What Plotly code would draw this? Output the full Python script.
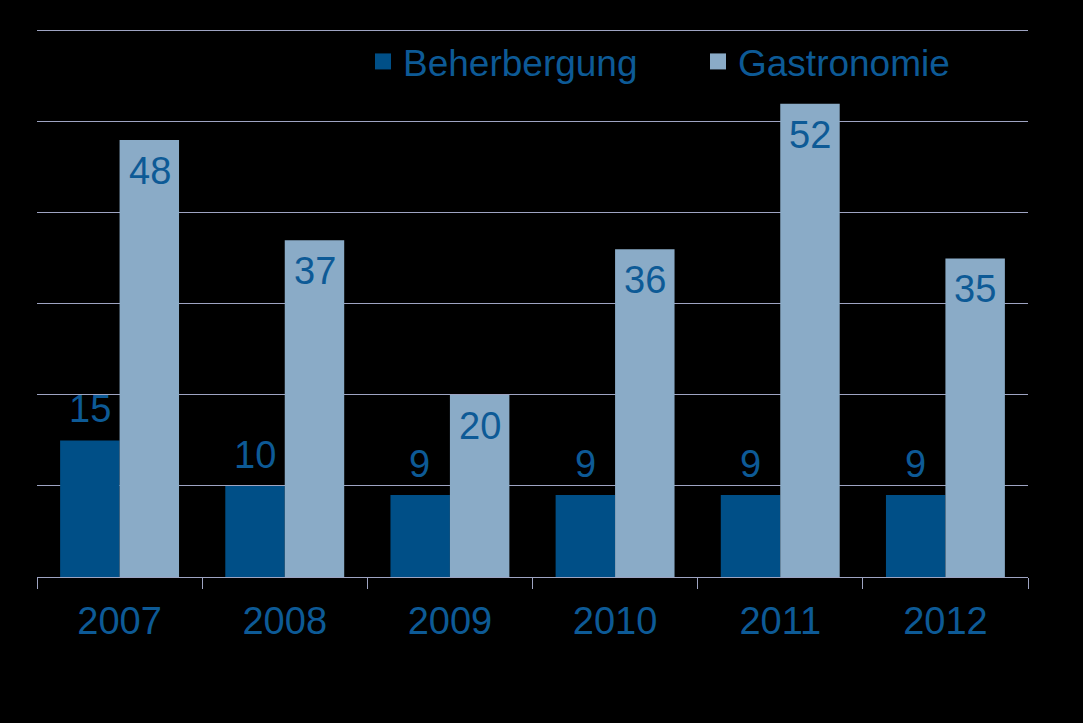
import plotly.graph_objects as go

years = ["2007", "2008", "2009", "2010", "2011", "2012"]
beherbergung = [15, 10, 9, 9, 9, 9]
gastronomie = [48, 37, 20, 36, 52, 35]

text_color = "#0d5a96"
grid_color = "#9ea4c2"
dark_blue = "#004f87"
light_blue = "#8aabc7"
font_family = "Liberation Sans, Arial, sans-serif"

fig = go.Figure()
fig.add_trace(go.Bar(
    name="Beherbergung", x=years, y=beherbergung,
    marker=dict(color=dark_blue, line=dict(width=0)),
    showlegend=False,
))
fig.add_trace(go.Bar(
    name="Gastronomie", x=years, y=gastronomie,
    marker=dict(color=light_blue, line=dict(width=0)),
    showlegend=False,
))
# legend entries with larger square swatches
for name, col in [("Beherbergung", dark_blue), ("Gastronomie", light_blue)]:
    fig.add_trace(go.Scatter(
        name=name, x=[years[0]], y=[None], mode="markers",
        marker=dict(symbol="square", size=19, color=col),
        showlegend=True, hoverinfo="skip",
    ))

# value labels (category index used as position on the category axis)
for i, v in enumerate(beherbergung):
    fig.add_annotation(x=i, y=v, text=str(v), showarrow=False,
                       xshift=-30, yshift=31, yanchor="middle",
                       font=dict(size=38, color=text_color, family=font_family))
for i, v in enumerate(gastronomie):
    fig.add_annotation(x=i, y=v, text=str(v), showarrow=False,
                       xshift=30, yshift=-31, yanchor="middle",
                       font=dict(size=38, color=text_color, family=font_family))

fig.update_layout(
    width=1083, height=723,
    paper_bgcolor="black", plot_bgcolor="black",
    margin=dict(l=37, r=55, t=29, b=146),
    barmode="group", bargap=0.28, bargroupgap=0,
    showlegend=True,
    legend=dict(orientation="h", x=(363 - 37) / 991, xanchor="left", y=0.94, yanchor="middle",
                font=dict(size=37, color=text_color, family=font_family),
                bgcolor="rgba(0,0,0,0)", itemwidth=30, traceorder="normal",
                entrywidth=290, entrywidthmode="pixels", borderwidth=0),
    font=dict(family=font_family, color=text_color),
)
fig.update_xaxes(
    type="category", categoryorder="array", categoryarray=years,
    range=[-0.5, len(years) - 0.5],
    showline=True, linecolor=grid_color, linewidth=1,
    ticks="outside", tickson="boundaries", ticklen=11, tickcolor=grid_color,
    tickfont=dict(size=38, color=text_color, family=font_family),
    ticklabelstandoff=10,
    showgrid=False, zeroline=False,
)
fig.update_yaxes(
    range=[0, 60.2], dtick=10, showticklabels=False,
    showgrid=True, gridcolor=grid_color, gridwidth=1,
    zeroline=False, showline=False,
)

fig.write_html("out.html")
